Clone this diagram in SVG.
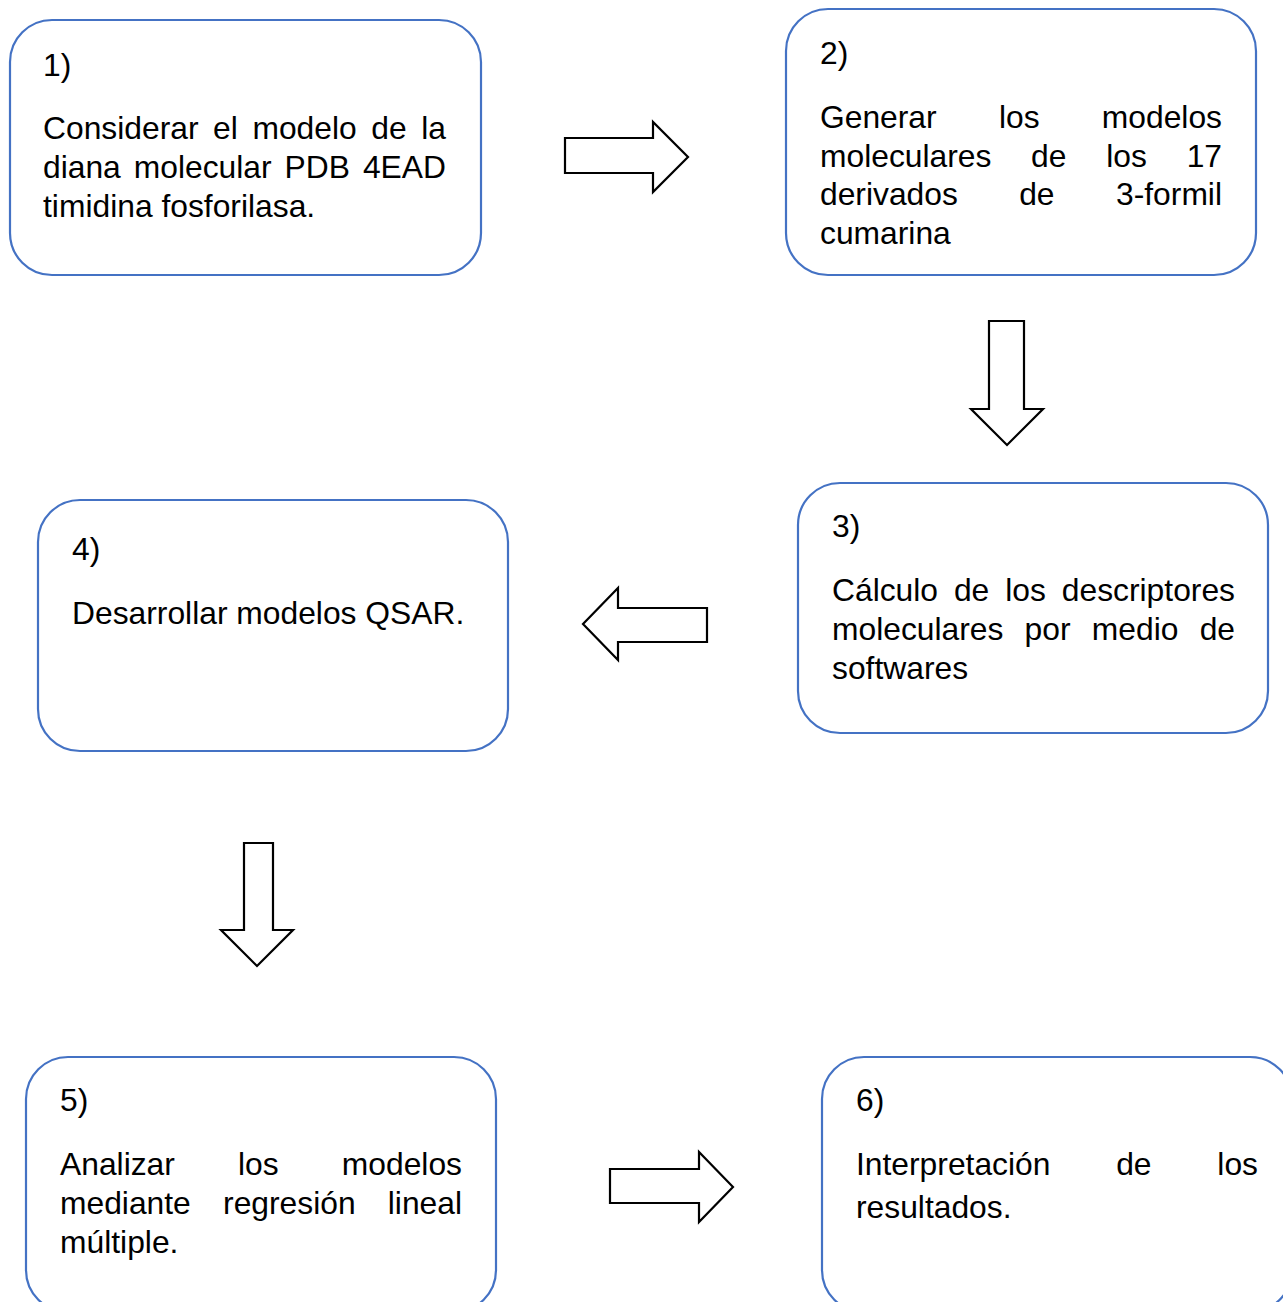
<svg xmlns="http://www.w3.org/2000/svg" width="1283" height="1302" viewBox="0 0 1283 1302">
<style>
.box{fill:#ffffff;stroke:#4472C4;stroke-width:2.2}
.arr{fill:#ffffff;stroke:#000000;stroke-width:2.2;stroke-linejoin:miter}
text{font-family:"Liberation Sans",Arial,sans-serif;font-size:31.8px;fill:#000000}
.e{text-anchor:end}
</style>
<rect width="1283" height="1302" fill="#ffffff"/>
<g id="connectors">
<polygon class="arr" points="565,138 653,138 653,122 688,157 653,192 653,173 565,173"/>
<polygon class="arr" points="989,321 1024,321 1024,409 1043,409 1007,445 971,409 989,409"/>
<polygon class="arr" points="707,608 618,608 618,588 583,624 618,660 618,642 707,642"/>
<polygon class="arr" points="244,843 273,843 273,930 293,930 257,966 221,930 244,930"/>
<polygon class="arr" points="610,1169 699,1169 699,1152 733,1187 699,1222 699,1203 610,1203"/>
</g>
<g id="node1">
<rect class="box" x="10" y="20" width="471" height="255" rx="42" ry="42"/>
<text x="43" y="76">1)</text>
<text y="139"><tspan x="43">Considerar</tspan><tspan x="213.1">el</tspan><tspan x="252.4">modelo</tspan><tspan x="371.3">de</tspan><tspan x="446" class="e">la</tspan></text>
<text y="178"><tspan x="43">diana</tspan><tspan x="133.8">molecular</tspan><tspan x="284.6">PDB</tspan><tspan x="446" class="e">4EAD</tspan></text>
<text x="43" y="217">timidina fosforilasa.</text>
</g>
<g id="node2">
<rect class="box" x="786" y="9" width="470" height="266" rx="42" ry="42"/>
<text x="820" y="64">2)</text>
<text y="128"><tspan x="820">Generar</tspan><tspan x="998.9">los</tspan><tspan x="1222" class="e">modelos</tspan></text>
<text y="167"><tspan x="820">moleculares</tspan><tspan x="1031.1">de</tspan><tspan x="1106.2">los</tspan><tspan x="1222" class="e">17</tspan></text>
<text y="205"><tspan x="820">derivados</tspan><tspan x="1019.2">de</tspan><tspan x="1222" class="e">3-formil</tspan></text>
<text x="820" y="244">cumarina</text>
</g>
<g id="node3">
<rect class="box" x="798" y="483" width="470" height="250" rx="42" ry="42"/>
<text x="832" y="537">3)</text>
<text y="601"><tspan x="832">Cálculo</tspan><tspan x="953.9">de</tspan><tspan x="1005.2">los</tspan><tspan x="1235" class="e">descriptores</tspan></text>
<text y="640"><tspan x="832">moleculares</tspan><tspan x="1024.6">por</tspan><tspan x="1091.8">medio</tspan><tspan x="1235" class="e">de</tspan></text>
<text x="832" y="679">softwares</text>
</g>
<g id="node4">
<rect class="box" x="38" y="500" width="470" height="251" rx="42" ry="42"/>
<text x="72" y="560">4)</text>
<text x="72" y="624">Desarrollar modelos QSAR.</text>
</g>
<g id="node5">
<rect class="box" x="26" y="1057" width="470" height="255" rx="42" ry="42"/>
<text x="60" y="1111">5)</text>
<text y="1175"><tspan x="60">Analizar</tspan><tspan x="238.05">los</tspan><tspan x="462" class="e">modelos</tspan></text>
<text y="1214"><tspan x="60">mediante</tspan><tspan x="223.05">regresión</tspan><tspan x="462" class="e">lineal</tspan></text>
<text x="60" y="1253">múltiple.</text>
</g>
<g id="node6">
<rect class="box" x="822" y="1057" width="470" height="255" rx="42" ry="42"/>
<text x="856" y="1111">6)</text>
<text y="1175"><tspan x="856">Interpretación</tspan><tspan x="1116.2">de</tspan><tspan x="1258" class="e">los</tspan></text>
<text x="856" y="1218">resultados.</text>
</g>
</svg>
